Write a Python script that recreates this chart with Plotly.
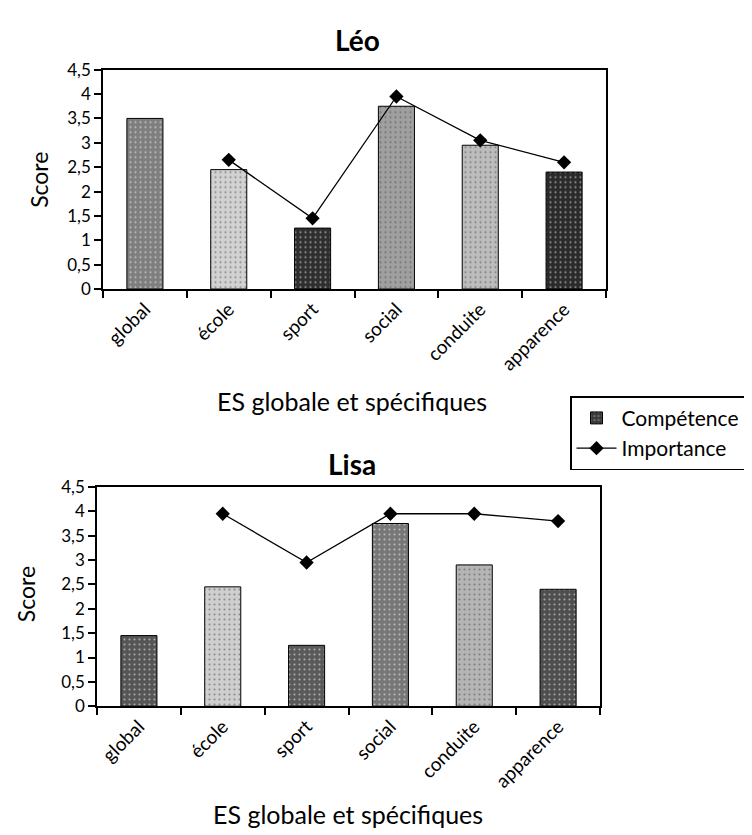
import plotly.graph_objects as go

categories = ["global", "école", "sport", "social", "conduite", "apparence"]
leo_competence = [3.5, 2.45, 1.25, 3.75, 2.95, 2.4]
leo_importance = [None, 2.65, 1.45, 3.95, 3.05, 2.6]
lisa_competence = [1.45, 2.45, 1.25, 3.75, 2.9, 2.4]
lisa_importance = [None, 3.95, 2.95, 3.95, 3.95, 3.8]
y_ticks = [0, 0.5, 1, 1.5, 2, 2.5, 3, 3.5, 4, 4.5]

leo_colors = ["#7e7e7e", "#d2d2d2", "#2e2e2e", "#a0a0a0", "#bdbdbd", "#2a2a2a"]
lisa_colors = ["#555555", "#cfcfcf", "#5a5a5a", "#777777", "#b5b5b5", "#4e4e4e"]
legend_swatch_color = "#3a3a3a"

W, H = 752, 835
FONT = "Lato, 'DejaVu Sans', sans-serif"
PATTERN = dict(shape=".", fgcolor="#ffffff", size=5, solidity=0.15)

fig = go.Figure()

# legend-only entry for the competence swatch (no visible mark)
fig.add_trace(go.Bar(
    x=[categories[0]], y=[None], name="Compétence",
    marker=dict(color=legend_swatch_color, line=dict(color="black", width=1), pattern=PATTERN),
    xaxis="x", yaxis="y", showlegend=True, legendrank=1, hoverinfo="skip"))

def add_chart(comp, imp, colors, xa, ya, show):
    fig.add_trace(go.Bar(
        x=categories, y=comp, name="Compétence", width=0.43,
        marker=dict(color=colors, line=dict(color="black", width=1), pattern=PATTERN),
        xaxis=xa, yaxis=ya, showlegend=False))
    fig.add_trace(go.Scatter(
        x=categories, y=imp, name="Importance", mode="lines+markers",
        line=dict(color="black", width=1.3),
        marker=dict(symbol="diamond", size=11, color="black"),
        xaxis=xa, yaxis=ya, showlegend=show, legendrank=2))

add_chart(leo_competence, leo_importance, leo_colors, "x", "y", True)
add_chart(lisa_competence, lisa_importance, lisa_colors, "x2", "y2", False)

def px_x(p):
    return p / W

def px_y(p):
    return 1 - p / H

axis_common = dict(showline=True, linecolor="black", linewidth=1.5, mirror=True,
                   ticks="outside", ticklen=7, tickcolor="black", tickwidth=1.5,
                   showgrid=False, zeroline=False)
xfont = dict(family=FONT, size=19, color="black")
yfont = dict(family=FONT, size=17, color="black")

fig.update_layout(
    width=W, height=H, margin=dict(l=0, r=0, t=0, b=0),
    paper_bgcolor="white", plot_bgcolor="white",
    separators=", ", barmode="overlay",
    font=dict(family=FONT, color="black"),
    xaxis=dict(domain=[px_x(95), px_x(598)], anchor="y", tickangle=-45,
               tickson="boundaries", tickfont=xfont, **axis_common),
    yaxis=dict(domain=[px_y(277), px_y(52)], anchor="x", range=[0, 4.5],
               tickvals=y_ticks, tickfont=yfont, **axis_common),
    xaxis2=dict(domain=[px_x(89), px_x(592)], anchor="y2", tickangle=-45,
                tickson="boundaries", tickfont=xfont, **axis_common),
    yaxis2=dict(domain=[px_y(705), px_y(480)], anchor="x2", range=[0, 4.5],
                tickvals=y_ticks, tickfont=yfont, **axis_common),
    legend=dict(x=px_x(562), y=px_y(387), xanchor="left", yanchor="top",
                bordercolor="black", borderwidth=1.5, bgcolor="white",
                font=dict(family=FONT, size=21, color="black"),
                tracegroupgap=0, itemwidth=40),
)

annotations = [
    dict(text="<b>Léo</b>", x=px_x(349), y=px_y(22), size=28, weight=900),
    dict(text="<b>Lisa</b>", x=px_x(344), y=px_y(456), size=28, weight=900),
    dict(text="ES globale et spécifiques", x=px_x(344), y=px_y(392), size=25, weight=400),
    dict(text="ES globale et spécifiques", x=px_x(340), y=px_y(815), size=25, weight=400),
]
for a in annotations:
    fig.add_annotation(text=a["text"], x=a["x"], y=a["y"], xref="paper", yref="paper",
                       showarrow=False, xanchor="center", yanchor="middle",
                       font=dict(family=FONT, size=a["size"], color="black", weight=a["weight"]))

for (x, y) in [(31, 165), (18, 590)]:
    fig.add_annotation(text="Score", x=px_x(x), y=px_y(y), xref="paper", yref="paper",
                       showarrow=False, textangle=-90, xanchor="center", yanchor="middle",
                       font=dict(family=FONT, size=23, color="black"))

fig.write_html("out.html")
